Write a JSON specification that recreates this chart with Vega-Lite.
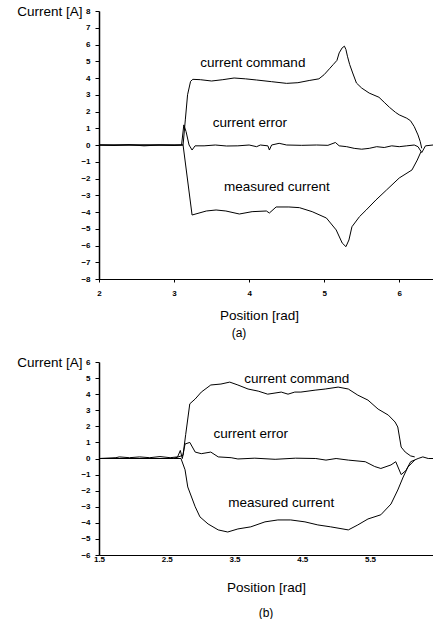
{
  "$schema": "https://vega.github.io/schema/vega-lite/v6.json",
  "padding": {"left": 16, "top": 4, "right": 0, "bottom": 0},
  "spacing": 16,
  "config": {
    "view": {"stroke": null},
    "font": "Liberation Sans",
    "axis": {
      "grid": false,
      "domainColor": "black",
      "tickColor": "black",
      "labelColor": "black",
      "titleColor": "black",
      "labelFont": "Liberation Sans",
      "labelFontSize": 8,
      "labelFontWeight": "bold",
      "labelFlush": false,
      "labelOverlap": false,
      "titleFont": "Liberation Sans",
      "titleFontSize": 13.5,
      "titleFontWeight": "normal"
    },
    "title": {"font": "Liberation Sans", "fontSize": 12, "fontWeight": "normal", "color": "black"}
  },
  "datasets": {
    "a": [
      {"series": "command", "x": 2.0, "y": 0},
      {"series": "command", "x": 3.0, "y": 0},
      {"series": "command", "x": 3.12, "y": 0.0},
      {"series": "command", "x": 3.15, "y": 1.5},
      {"series": "command", "x": 3.18, "y": 3.0},
      {"series": "command", "x": 3.22, "y": 3.8},
      {"series": "command", "x": 3.25, "y": 3.92},
      {"series": "command", "x": 3.35, "y": 3.9},
      {"series": "command", "x": 3.5, "y": 3.82},
      {"series": "command", "x": 3.65, "y": 3.9},
      {"series": "command", "x": 3.8, "y": 4.0},
      {"series": "command", "x": 3.95, "y": 3.95},
      {"series": "command", "x": 4.1, "y": 3.88},
      {"series": "command", "x": 4.3, "y": 3.78},
      {"series": "command", "x": 4.5, "y": 3.68},
      {"series": "command", "x": 4.65, "y": 3.72},
      {"series": "command", "x": 4.8, "y": 3.85},
      {"series": "command", "x": 4.93, "y": 3.95},
      {"series": "command", "x": 5.0, "y": 4.2},
      {"series": "command", "x": 5.07, "y": 4.55},
      {"series": "command", "x": 5.12, "y": 4.8},
      {"series": "command", "x": 5.17, "y": 5.05},
      {"series": "command", "x": 5.2, "y": 5.5},
      {"series": "command", "x": 5.24, "y": 5.8},
      {"series": "command", "x": 5.27, "y": 5.9},
      {"series": "command", "x": 5.29, "y": 5.7},
      {"series": "command", "x": 5.31, "y": 5.3},
      {"series": "command", "x": 5.34, "y": 4.8},
      {"series": "command", "x": 5.38, "y": 4.3},
      {"series": "command", "x": 5.43, "y": 3.7},
      {"series": "command", "x": 5.5, "y": 3.4},
      {"series": "command", "x": 5.6, "y": 3.1},
      {"series": "command", "x": 5.73, "y": 2.85},
      {"series": "command", "x": 5.8, "y": 2.55},
      {"series": "command", "x": 5.87, "y": 2.25},
      {"series": "command", "x": 5.95, "y": 1.95},
      {"series": "command", "x": 6.0, "y": 1.8},
      {"series": "command", "x": 6.1, "y": 1.6},
      {"series": "command", "x": 6.15, "y": 1.45},
      {"series": "command", "x": 6.2, "y": 1.1},
      {"series": "command", "x": 6.25, "y": 0.6},
      {"series": "command", "x": 6.28, "y": 0.2},
      {"series": "command", "x": 6.3, "y": -0.2},

      {"series": "measured", "x": 2.0, "y": 0},
      {"series": "measured", "x": 3.0, "y": 0},
      {"series": "measured", "x": 3.12, "y": 0},
      {"series": "measured", "x": 3.24, "y": -4.18},
      {"series": "measured", "x": 3.43, "y": -3.94},
      {"series": "measured", "x": 3.56, "y": -3.88},
      {"series": "measured", "x": 3.69, "y": -3.94},
      {"series": "measured", "x": 3.87, "y": -4.12},
      {"series": "measured", "x": 4.04, "y": -3.98},
      {"series": "measured", "x": 4.23, "y": -3.94},
      {"series": "measured", "x": 4.27, "y": -4.06},
      {"series": "measured", "x": 4.36, "y": -3.7},
      {"series": "measured", "x": 4.53, "y": -3.7},
      {"series": "measured", "x": 4.67, "y": -3.74},
      {"series": "measured", "x": 4.84, "y": -3.98},
      {"series": "measured", "x": 5.03, "y": -4.36},
      {"series": "measured", "x": 5.16, "y": -5.07},
      {"series": "measured", "x": 5.24, "y": -5.85},
      {"series": "measured", "x": 5.29, "y": -6.07},
      {"series": "measured", "x": 5.33, "y": -5.67},
      {"series": "measured", "x": 5.37, "y": -4.88},
      {"series": "measured", "x": 5.47, "y": -4.28},
      {"series": "measured", "x": 5.56, "y": -3.88},
      {"series": "measured", "x": 5.69, "y": -3.28},
      {"series": "measured", "x": 5.83, "y": -2.69},
      {"series": "measured", "x": 6.0, "y": -1.97},
      {"series": "measured", "x": 6.17, "y": -1.49},
      {"series": "measured", "x": 6.24, "y": -0.9},
      {"series": "measured", "x": 6.29, "y": -0.4},

      {"series": "error", "x": 2.0, "y": 0.0},
      {"series": "error", "x": 2.2, "y": -0.03},
      {"series": "error", "x": 2.4, "y": 0.02},
      {"series": "error", "x": 2.6, "y": -0.05},
      {"series": "error", "x": 2.8, "y": 0.0},
      {"series": "error", "x": 3.0, "y": -0.03},
      {"series": "error", "x": 3.1, "y": 0.0},
      {"series": "error", "x": 3.13, "y": 1.2},
      {"series": "error", "x": 3.16, "y": 0.8},
      {"series": "error", "x": 3.2, "y": 0.0},
      {"series": "error", "x": 3.24, "y": -0.3},
      {"series": "error", "x": 3.28, "y": -0.05},
      {"series": "error", "x": 3.4, "y": -0.05},
      {"series": "error", "x": 3.55, "y": 0.0},
      {"series": "error", "x": 3.7, "y": -0.06},
      {"series": "error", "x": 3.85, "y": -0.05},
      {"series": "error", "x": 4.0, "y": 0.0},
      {"series": "error", "x": 4.1, "y": -0.1},
      {"series": "error", "x": 4.15, "y": 0.0},
      {"series": "error", "x": 4.25, "y": -0.05},
      {"series": "error", "x": 4.27, "y": -0.3},
      {"series": "error", "x": 4.3, "y": 0.0},
      {"series": "error", "x": 4.4, "y": 0.1},
      {"series": "error", "x": 4.5, "y": 0.0},
      {"series": "error", "x": 4.7, "y": -0.02},
      {"series": "error", "x": 4.9, "y": 0.0},
      {"series": "error", "x": 5.05, "y": -0.02},
      {"series": "error", "x": 5.15, "y": 0.15},
      {"series": "error", "x": 5.2, "y": -0.05},
      {"series": "error", "x": 5.3, "y": -0.1},
      {"series": "error", "x": 5.4, "y": -0.2},
      {"series": "error", "x": 5.5, "y": -0.25},
      {"series": "error", "x": 5.6, "y": -0.2},
      {"series": "error", "x": 5.7, "y": -0.1},
      {"series": "error", "x": 5.8, "y": -0.15},
      {"series": "error", "x": 5.9, "y": -0.05},
      {"series": "error", "x": 6.0, "y": -0.1},
      {"series": "error", "x": 6.1, "y": -0.05},
      {"series": "error", "x": 6.2, "y": 0.0},
      {"series": "error", "x": 6.25, "y": -0.1},
      {"series": "error", "x": 6.3, "y": -0.45},
      {"series": "error", "x": 6.35, "y": -0.05},
      {"series": "error", "x": 6.45, "y": 0.0}
    ],
    "b": [
      {"series": "command", "x": 1.5, "y": 0},
      {"series": "command", "x": 2.6, "y": 0},
      {"series": "command", "x": 2.74, "y": 0.2},
      {"series": "command", "x": 2.78, "y": 1.5},
      {"series": "command", "x": 2.84, "y": 3.4},
      {"series": "command", "x": 2.92, "y": 3.7},
      {"series": "command", "x": 3.01, "y": 4.13},
      {"series": "command", "x": 3.15, "y": 4.57},
      {"series": "command", "x": 3.3, "y": 4.63},
      {"series": "command", "x": 3.43, "y": 4.75},
      {"series": "command", "x": 3.55, "y": 4.57},
      {"series": "command", "x": 3.7, "y": 4.32},
      {"series": "command", "x": 3.85, "y": 4.19},
      {"series": "command", "x": 3.99, "y": 4.0},
      {"series": "command", "x": 4.19, "y": 4.13},
      {"series": "command", "x": 4.29, "y": 4.0},
      {"series": "command", "x": 4.39, "y": 4.13},
      {"series": "command", "x": 4.48, "y": 4.13},
      {"series": "command", "x": 4.69, "y": 4.25},
      {"series": "command", "x": 4.84, "y": 4.32},
      {"series": "command", "x": 5.03, "y": 4.44},
      {"series": "command", "x": 5.18, "y": 4.32},
      {"series": "command", "x": 5.32, "y": 3.94},
      {"series": "command", "x": 5.47, "y": 3.63},
      {"series": "command", "x": 5.62, "y": 3.07},
      {"series": "command", "x": 5.77, "y": 2.7},
      {"series": "command", "x": 5.87, "y": 2.27},
      {"series": "command", "x": 5.91, "y": 1.96},
      {"series": "command", "x": 5.96, "y": 0.71},
      {"series": "command", "x": 6.02, "y": 0.4},
      {"series": "command", "x": 6.1, "y": 0.16},
      {"series": "command", "x": 6.16, "y": 0.1},

      {"series": "measured", "x": 1.5, "y": 0},
      {"series": "measured", "x": 2.6, "y": 0},
      {"series": "measured", "x": 2.71, "y": 0},
      {"series": "measured", "x": 2.77, "y": -0.7},
      {"series": "measured", "x": 2.81, "y": -1.77},
      {"series": "measured", "x": 2.92, "y": -3.0},
      {"series": "measured", "x": 2.99, "y": -3.63},
      {"series": "measured", "x": 3.11, "y": -4.07},
      {"series": "measured", "x": 3.26, "y": -4.44},
      {"series": "measured", "x": 3.4, "y": -4.57},
      {"series": "measured", "x": 3.55, "y": -4.38},
      {"series": "measured", "x": 3.74, "y": -4.25},
      {"series": "measured", "x": 3.95, "y": -3.94},
      {"series": "measured", "x": 4.14, "y": -3.82},
      {"series": "measured", "x": 4.33, "y": -3.82},
      {"series": "measured", "x": 4.54, "y": -3.94},
      {"series": "measured", "x": 4.73, "y": -4.13},
      {"series": "measured", "x": 4.92, "y": -4.25},
      {"series": "measured", "x": 5.18, "y": -4.44},
      {"series": "measured", "x": 5.32, "y": -4.13},
      {"series": "measured", "x": 5.47, "y": -3.76},
      {"series": "measured", "x": 5.66, "y": -3.5},
      {"series": "measured", "x": 5.81, "y": -2.83},
      {"series": "measured", "x": 5.91, "y": -1.96},
      {"series": "measured", "x": 5.99, "y": -1.15},
      {"series": "measured", "x": 6.06, "y": -0.53},
      {"series": "measured", "x": 6.16, "y": -0.1},

      {"series": "error", "x": 1.5, "y": 0.0},
      {"series": "error", "x": 1.75, "y": 0.05},
      {"series": "error", "x": 1.8, "y": 0.1},
      {"series": "error", "x": 1.95, "y": 0.05},
      {"series": "error", "x": 2.1, "y": 0.1},
      {"series": "error", "x": 2.25, "y": 0.05},
      {"series": "error", "x": 2.4, "y": 0.12},
      {"series": "error", "x": 2.55, "y": 0.05},
      {"series": "error", "x": 2.66, "y": 0.1},
      {"series": "error", "x": 2.7, "y": 0.5},
      {"series": "error", "x": 2.73, "y": 0.0},
      {"series": "error", "x": 2.77, "y": 0.9},
      {"series": "error", "x": 2.84, "y": 1.0},
      {"series": "error", "x": 2.92, "y": 0.4},
      {"series": "error", "x": 3.01, "y": 0.3},
      {"series": "error", "x": 3.15, "y": 0.4},
      {"series": "error", "x": 3.26, "y": 0.1},
      {"series": "error", "x": 3.45, "y": 0.05},
      {"series": "error", "x": 3.55, "y": -0.03},
      {"series": "error", "x": 3.8, "y": 0.02},
      {"series": "error", "x": 4.1, "y": -0.05},
      {"series": "error", "x": 4.4, "y": 0.02},
      {"series": "error", "x": 4.7, "y": 0.0},
      {"series": "error", "x": 4.85, "y": -0.1},
      {"series": "error", "x": 5.0, "y": 0.0},
      {"series": "error", "x": 5.18, "y": -0.1},
      {"series": "error", "x": 5.43, "y": -0.2},
      {"series": "error", "x": 5.57, "y": -0.5},
      {"series": "error", "x": 5.66, "y": -0.62},
      {"series": "error", "x": 5.81, "y": -0.4},
      {"series": "error", "x": 5.88, "y": -0.2},
      {"series": "error", "x": 5.96, "y": -1.0},
      {"series": "error", "x": 6.03, "y": -0.75},
      {"series": "error", "x": 6.1, "y": -0.2},
      {"series": "error", "x": 6.21, "y": 0.0},
      {"series": "error", "x": 6.28, "y": 0.1},
      {"series": "error", "x": 6.36, "y": 0.0},
      {"series": "error", "x": 6.43, "y": 0.0}
    ],
    "labA": [
      {"x": 4.05, "y": 4.9, "label": "current command"},
      {"x": 4.01, "y": 1.31, "label": "current error"},
      {"x": 4.37, "y": -2.49, "label": "measured current"}
    ],
    "labB": [
      {"x": 4.42, "y": 4.94, "label": "current command"},
      {"x": 3.74, "y": 1.52, "label": "current error"},
      {"x": 4.19, "y": -2.76, "label": "measured current"}
    ]
  },
  "vconcat": [
    {
      "width": 334,
      "height": 268,
      "title": {"text": "(a)", "orient": "bottom", "offset": 6, "anchor": "middle", "dx": -27},
      "layer": [
        {
          "data": {"name": "a"},
          "mark": {"type": "line", "color": "black", "strokeWidth": 1, "clip": true},
          "encoding": {
            "x": {"field": "x", "type": "quantitative",
                  "scale": {"domain": [2, 6.45], "nice": false, "zero": false},
                  "axis": {"title": "Position [rad]", "values": [2, 3, 4, 5, 6], "format": "d", "tickSize": 3, "labelPadding": 7, "titlePadding": 11, "titleX": 160, "domainWidth": 1}},
            "y": {"field": "y", "type": "quantitative",
                  "scale": {"domain": [-8, 8], "nice": false},
                  "axis": {"title": "Current [A]", "tickCount": 20, "values": [-8, -7, -6, -5, -4, -3, -2, -1, 0, 1, 2, 3, 4, 5, 6, 7, 8], "format": "d",
                           "labelOverlap": false,
                           "titleAngle": 0, "titleAlign": "right", "titleBaseline": "middle", "titleX": -17, "titleY": 0,
                           "tickSize": 4, "labelPadding": 5, "domainWidth": 1.5}},
            "detail": {"field": "series"}
          }
        },
        {"mark": {"type": "rule", "color": "black", "strokeWidth": 1}, "encoding": {"y": {"datum": 0, "type": "quantitative",
                  "axis": {"title": "Current [A]", "tickCount": 20, "values": [-8, -7, -6, -5, -4, -3, -2, -1, 0, 1, 2, 3, 4, 5, 6, 7, 8], "format": "d",
                           "labelOverlap": false,
                           "titleAngle": 0, "titleAlign": "right", "titleBaseline": "middle", "titleX": -17, "titleY": 0,
                           "tickSize": 4, "labelPadding": 5, "domainWidth": 1.5}}}},
        {"mark": {"type": "rule", "color": "black", "strokeWidth": 1.5}, "encoding": {"y": {"datum": 8, "type": "quantitative",
                  "axis": {"title": "Current [A]", "tickCount": 20, "values": [-8, -7, -6, -5, -4, -3, -2, -1, 0, 1, 2, 3, 4, 5, 6, 7, 8], "format": "d",
                           "labelOverlap": false,
                           "titleAngle": 0, "titleAlign": "right", "titleBaseline": "middle", "titleX": -17, "titleY": 0,
                           "tickSize": 4, "labelPadding": 5, "domainWidth": 1.5}}}},
        {
          "data": {"name": "labA"},
          "mark": {"type": "text", "font": "Liberation Sans", "fontSize": 13.5, "color": "black"},
          "encoding": {
            "x": {"field": "x", "type": "quantitative"},
            "y": {"field": "y", "type": "quantitative"},
            "text": {"field": "label"}
          }
        }
      ]
    },
    {
      "width": 334,
      "height": 193,
      "title": {"text": "(b)", "orient": "bottom", "offset": 14, "anchor": "middle"},
      "layer": [
        {
          "data": {"name": "b"},
          "mark": {"type": "line", "color": "black", "strokeWidth": 1, "clip": true},
          "encoding": {
            "x": {"field": "x", "type": "quantitative",
                  "scale": {"domain": [1.5, 6.43], "nice": false, "zero": false},
                  "axis": {"title": "Position [rad]", "values": [1.5, 2.5, 3.5, 4.5, 5.5], "format": ".1f", "ticks": false, "labelPadding": 0, "titlePadding": 17, "domainWidth": 1}},
            "y": {"field": "y", "type": "quantitative",
                  "scale": {"domain": [-6, 6], "nice": false},
                  "axis": {"title": "Current [A]", "tickCount": 16, "values": [-6, -5, -4, -3, -2, -1, 0, 1, 2, 3, 4, 5, 6], "format": "d",
                           "labelOverlap": false,
                           "titleAngle": 0, "titleAlign": "right", "titleBaseline": "middle", "titleX": -17, "titleY": 0,
                           "tickSize": 4, "labelPadding": 5, "domainWidth": 1.5}},
            "detail": {"field": "series"}
          }
        },
        {"mark": {"type": "rule", "color": "black", "strokeWidth": 1}, "encoding": {"y": {"datum": 0, "type": "quantitative",
                  "axis": {"title": "Current [A]", "tickCount": 16, "values": [-6, -5, -4, -3, -2, -1, 0, 1, 2, 3, 4, 5, 6], "format": "d",
                           "labelOverlap": false,
                           "titleAngle": 0, "titleAlign": "right", "titleBaseline": "middle", "titleX": -17, "titleY": 0,
                           "tickSize": 4, "labelPadding": 5, "domainWidth": 1.5}}}},
        {"mark": {"type": "rule", "color": "black", "strokeWidth": 1.5}, "encoding": {"y": {"datum": 6, "type": "quantitative",
                  "axis": {"title": "Current [A]", "tickCount": 16, "values": [-6, -5, -4, -3, -2, -1, 0, 1, 2, 3, 4, 5, 6], "format": "d",
                           "labelOverlap": false,
                           "titleAngle": 0, "titleAlign": "right", "titleBaseline": "middle", "titleX": -17, "titleY": 0,
                           "tickSize": 4, "labelPadding": 5, "domainWidth": 1.5}}}},
        {
          "data": {"name": "labB"},
          "mark": {"type": "text", "font": "Liberation Sans", "fontSize": 13.5, "color": "black"},
          "encoding": {
            "x": {"field": "x", "type": "quantitative"},
            "y": {"field": "y", "type": "quantitative"},
            "text": {"field": "label"}
          }
        }
      ]
    }
  ]
}
